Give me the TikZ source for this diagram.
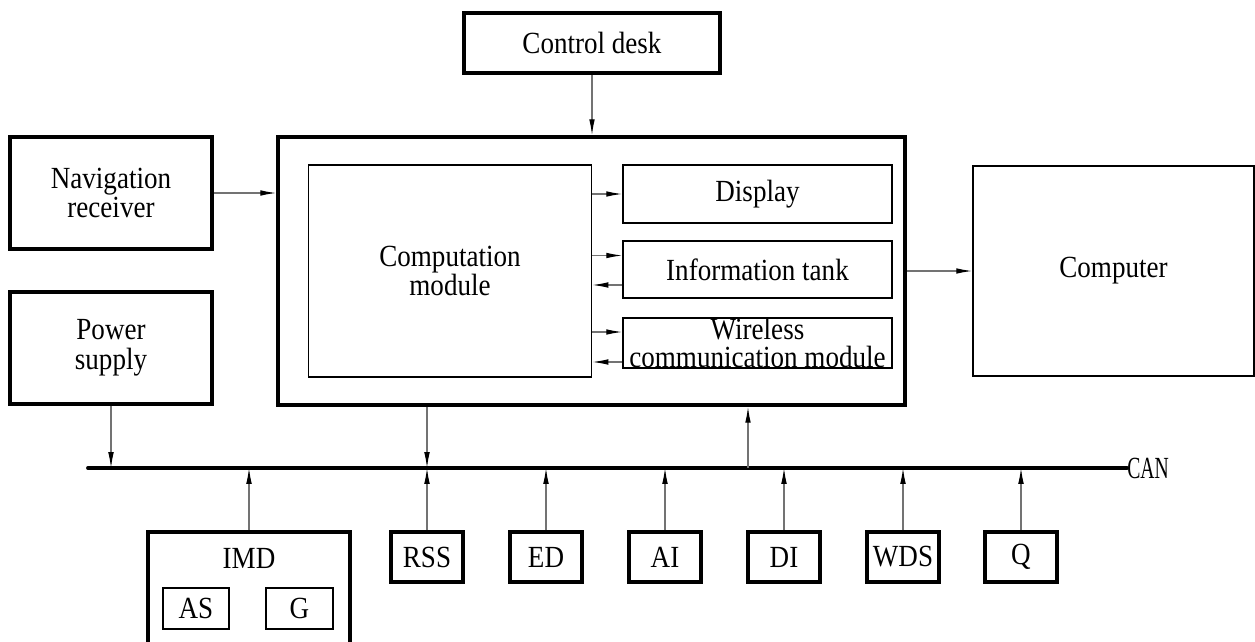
\documentclass[tikz,border=0pt]{standalone}
\usepackage{fontspec}
\setmainfont{Liberation Serif}[FakeStretch=0.88]
\newfontfamily\narrowserif{Liberation Serif}[FakeStretch=0.64]
\usetikzlibrary{arrows.meta}

\begin{document}
\begin{tikzpicture}[x=0.02cm,y=-0.02cm,
  font=\fontsize{17.5}{17}\selectfont,
  thickbox/.style={draw,line width=2.2pt,inner sep=0pt,align=center},
  thinbox/.style={draw,line width=1.1pt,inner sep=0pt,align=center},
  smallbox/.style={thickbox,minimum width=1.44cm,minimum height=1cm},
  conn/.style={draw=black!55,line width=0.6pt,-{Latex[black,length=9pt,width=3.2pt]}},
  busline/.style={line width=2.2pt,line cap=round}]
\clip (0,0) rectangle (1255,642);
\node[thickbox,minimum width=5.12cm,minimum height=1.2cm] (desk) at (592,43) {Control desk};
\node[thickbox,minimum width=12.54cm,minimum height=5.36cm] (main) at (591.5,271) {};
\node[thickbox,minimum width=4.04cm,minimum height=2.24cm] (nav) at (111,193) {Navigation\\receiver};
\node[thickbox,minimum width=4.04cm,minimum height=2.24cm] (power) at (111,348) {Power\\supply};
\node[thinbox,minimum width=5.66cm,minimum height=4.24cm] (comp) at (450,271) {Computation\\module};
\node[thinbox,minimum width=5.38cm,minimum height=1.16cm] (display) at (757.5,194) {Display};
\node[thinbox,minimum width=5.38cm,minimum height=1.14cm] (info) at (757.5,269.5) {Information tank};
\node[thinbox,minimum width=5.38cm,minimum height=1cm,font=\fontsize{17.5}{16.3}\selectfont] (wireless) at (757.5,343) {Wireless\\communication module};
\node[thinbox,minimum width=5.62cm,minimum height=4.2cm] (computer) at (1113.5,271) {Computer};
\node[thickbox,minimum width=4.04cm,minimum height=2.56cm] (imd) at (249,596) {};
\node (imdname) at (249,558) {IMD};
\node[thinbox,minimum width=1.32cm,minimum height=0.82cm] (as) at (196,608.5) {AS};
\node[thinbox,minimum width=1.34cm,minimum height=0.82cm] (g) at (299.5,608.5) {G};
\node[smallbox] (rss) at (427,557) {RSS};
\node[smallbox] (ed) at (546,557) {ED};
\node[smallbox] (ai) at (665,557) {AI};
\node[smallbox] (di) at (784,557) {DI};
\node[smallbox] (wds) at (903,557) {WDS};
\node[smallbox] (q) at (1021,557) {Q};
\coordinate (busl) at (88,468);
\coordinate (busr) at (1127,468);
\coordinate (tap) at (748,468);
\draw[busline] (busl) -- (busr);
\node[anchor=west,inner sep=0pt,font=\narrowserif\fontsize{17.5}{17}\selectfont] (can) at (busr) {CAN};
\coordinate (i1) at ([yshift=0.28cm]info.west);
\coordinate (i2) at ([yshift=-0.31cm]info.west);
\coordinate (w1) at ([yshift=0.22cm]wireless.west);
\coordinate (w2) at ([yshift=-0.38cm]wireless.west);
\draw[conn] (desk.south) -- (desk.south |- main.north);
\draw[conn] (nav.east) -- (nav.east -| main.west);
\draw[conn] (main.east) -- (computer.west);
\draw[conn] (display.west -| comp.east) -- (display.west);
\draw[conn] (i1 -| comp.east) -- (i1);
\draw[conn] (i2) -- (i2 -| comp.east);
\draw[conn] (w1 -| comp.east) -- (w1);
\draw[conn] (w2) -- (w2 -| comp.east);
\draw[conn] (power.south) -- (power.south |- busl);
\draw[conn] (main.south -| rss.north) -- (rss.north |- busl);
\draw[conn] (tap) -- (tap |- main.south);
\draw[conn] (imd.north) -- (imd.north |- busl);
\draw[conn] (rss.north) -- (rss.north |- busl);
\draw[conn] (ed.north) -- (ed.north |- busl);
\draw[conn] (ai.north) -- (ai.north |- busl);
\draw[conn] (di.north) -- (di.north |- busl);
\draw[conn] (wds.north) -- (wds.north |- busl);
\draw[conn] (q.north) -- (q.north |- busl);
\end{tikzpicture}
\end{document}
